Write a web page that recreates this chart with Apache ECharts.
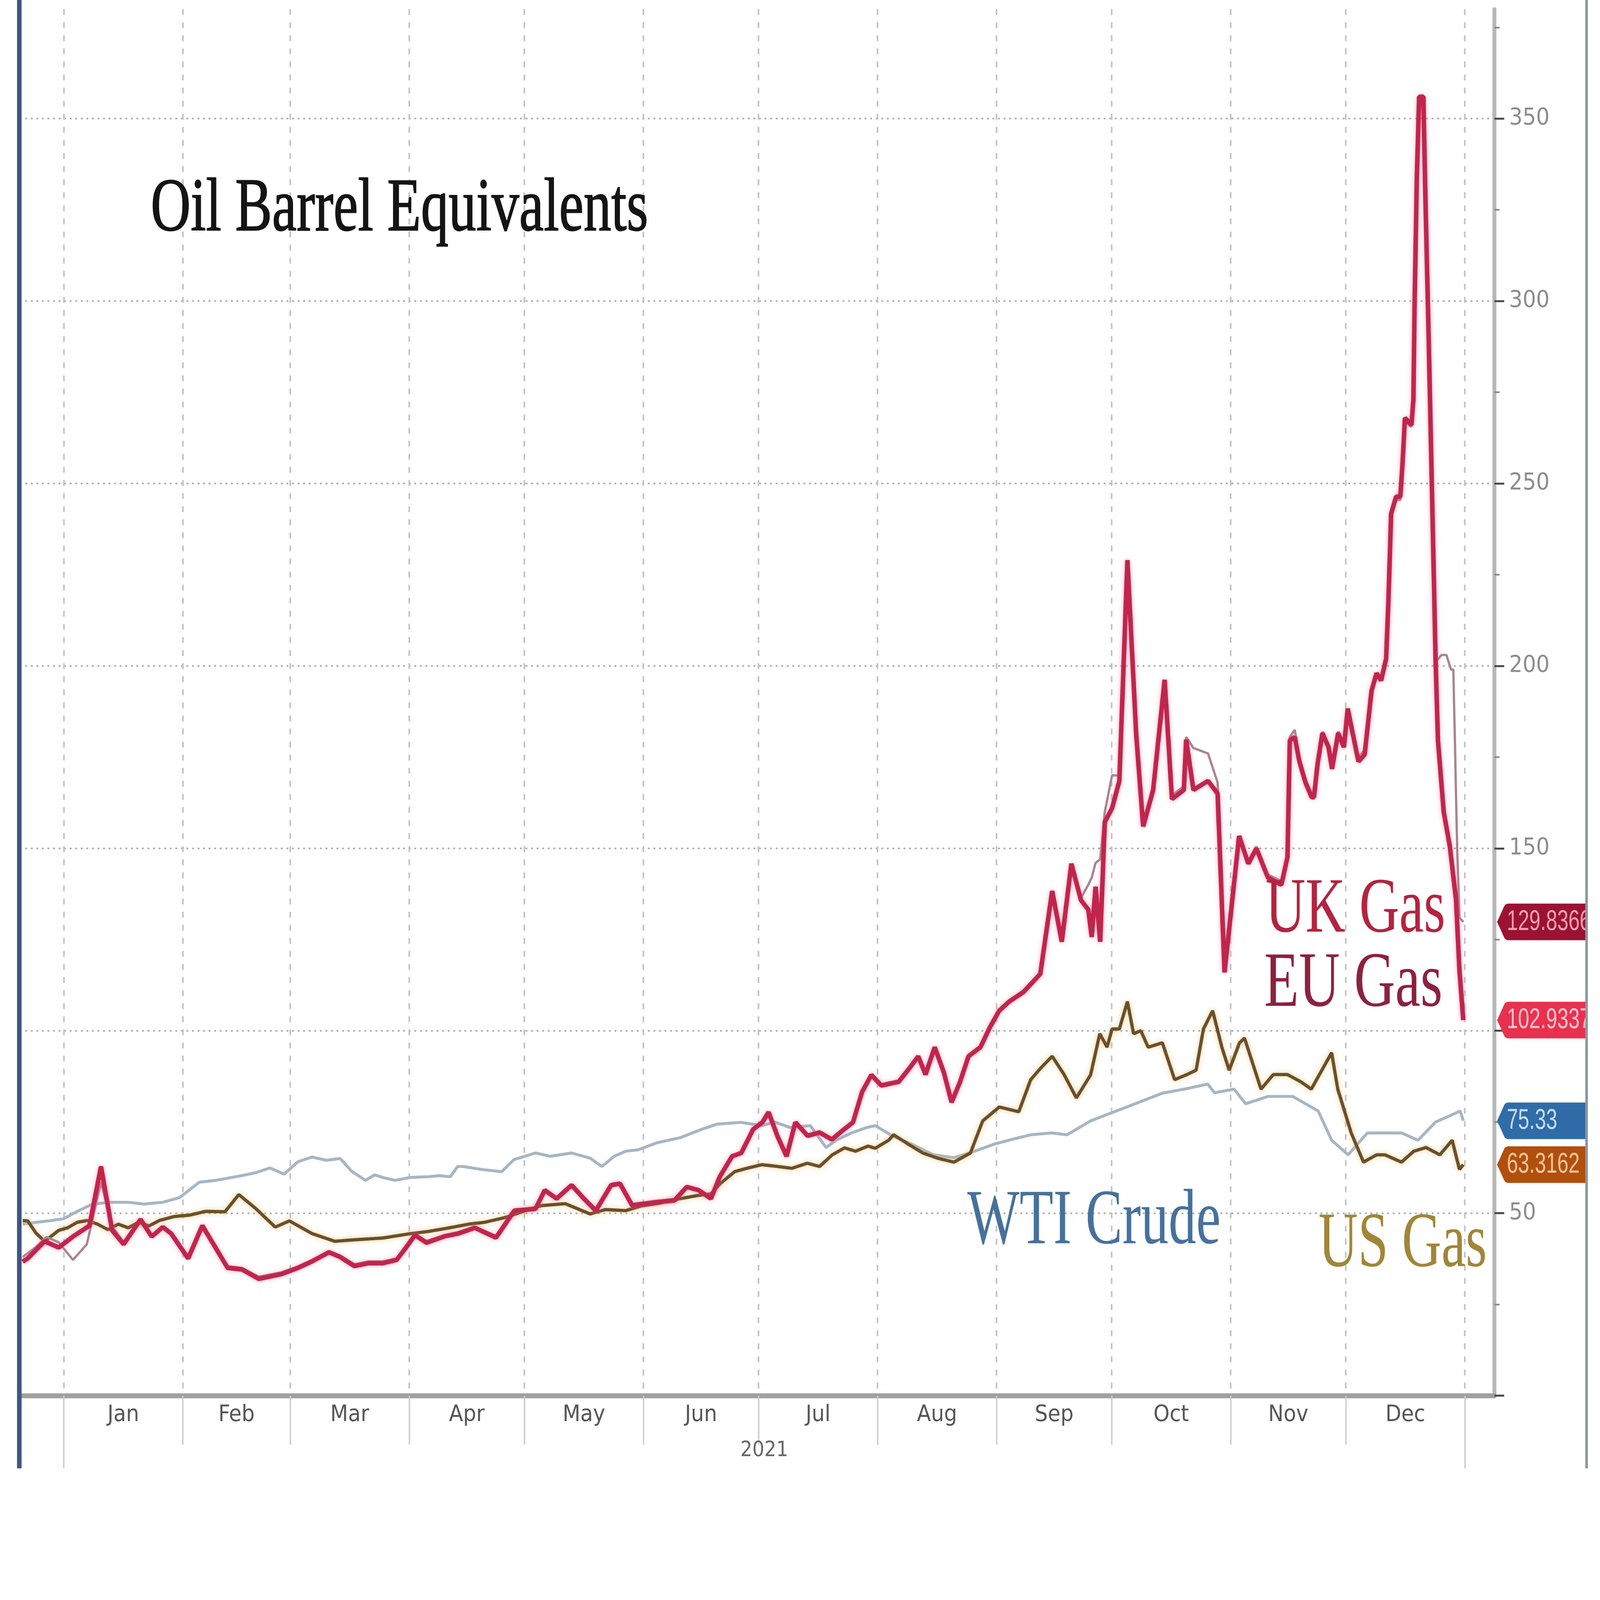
<!DOCTYPE html>
<html><head><meta charset="utf-8">
<script src="https://cdn.jsdelivr.net/npm/echarts@6/dist/echarts.min.js"></script>
<style>html,body{margin:0;padding:0;background:#fff;overflow:hidden}#chart{width:4893px;height:4490px;transform-origin:0 0}</style>
</head><body><div id="chart"></div>
<script>
// x values are days since 1 Jan 2021
const monthNames = ['Jan','Feb','Mar','Apr','May','Jun','Jul','Aug','Sep','Oct','Nov','Dec'];
const monthStarts = [0,31,59,90,120,151,181,212,243,273,304,334,365];
const yearTicks = [0,365];
const yearLabelPos = [182.5];
const yearLabel = '2021';
const yTickValues = [0,50,100,150,200,250,300,350];
const yLabelValues = [50,100,150,200,250,300,350];
const yMinorValues = [25,75,125,175,225,275,325,375];
const X_MIN = -11.5, X_MAX = 372.7;
const Y_MIN = 0, Y_MAX = 380;

const wtiCrude = [[-10.7,47.0],[-7.2,47.5],[-3.2,48.0],[0.0,48.5],[3.5,50.5],[7.5,52.5],[11.9,53.0],[16.8,53.0],[20.8,52.5],[25.8,53.0],[30.2,54.3],[35.3,58.5],[39.6,59.0],[46.4,60.3],[50.0,61.1],[53.7,62.4],[57.4,60.7],[61.0,64.1],[64.7,65.4],[68.4,64.5],[72.0,65.0],[75.0,61.5],[78.6,59.0],[81.0,60.5],[83.1,59.8],[86.3,59.0],[90.3,59.8],[95.1,60.0],[97.8,60.3],[100.7,60.0],[102.6,62.8],[104.0,62.8],[109.5,61.9],[114.1,61.4],[117.3,64.7],[122.9,66.5],[126.8,65.6],[132.3,66.5],[137.1,65.1],[140.2,62.8],[143.4,65.6],[146.4,67.0],[149.7,67.4],[154.5,69.3],[160.6,70.7],[166.2,73.0],[170.2,74.4],[176.4,74.9],[181.9,74.0],[185.2,75.0],[189.2,73.5],[194.5,74.0],[198.6,68.0],[201.2,70.0],[205.2,72.0],[209.2,73.5],[211.4,74.0],[216.2,71.0],[220.7,69.0],[226.6,66.0],[231.9,65.2],[237.3,67.0],[242.6,69.0],[248.0,70.5],[252.0,71.5],[257.3,72.0],[261.4,71.5],[267.5,75.3],[273.7,77.8],[280.1,80.4],[286.2,82.9],[292.4,84.1],[298.0,85.4],[299.8,83.0],[304.9,84.0],[307.9,80.0],[313.7,82.0],[320.2,82.0],[326.8,78.0],[330.3,70.0],[334.6,66.0],[339.6,72.0],[344.2,72.0],[348.5,72.0],[352.8,70.0],[357.4,75.0],[361.7,77.0],[363.8,78.0],[364.6,75.33]];

const usGas = [[-10.7,48.0],[-9.4,47.9],[-7.2,44.5],[-5.0,42.3],[-1.3,45.3],[1.0,46.0],[3.5,47.5],[6.1,48.0],[8.8,47.0],[11.5,45.5],[14.2,47.0],[16.8,46.0],[19.5,47.5],[22.2,46.5],[24.9,48.0],[28.8,49.1],[32.9,49.5],[36.9,50.5],[42.0,50.4],[45.6,55.1],[50.0,51.3],[55.1,46.2],[58.8,47.9],[64.7,44.4],[70.6,42.3],[75.6,42.7],[83.1,43.2],[90.3,44.4],[95.0,45.0],[100.5,46.0],[105.5,47.0],[109.6,47.5],[114.9,48.8],[119.7,50.5],[124.5,52.1],[130.7,52.6],[137.1,49.8],[141.1,51.0],[146.4,50.7],[150.5,52.0],[154.5,52.6],[160.6,54.0],[165.4,54.9],[168.6,55.3],[171.0,58.1],[174.8,61.4],[177.9,62.3],[181.9,63.3],[186.0,62.8],[189.7,62.3],[193.7,63.7],[196.9,62.8],[200.2,66.0],[203.4,67.9],[206.3,67.0],[209.5,68.4],[211.4,67.8],[214.9,70.0],[216.2,71.5],[219.9,69.0],[223.8,66.5],[227.9,65.0],[231.9,64.0],[236.2,66.5],[239.4,75.3],[243.7,79.1],[248.8,77.8],[251.9,86.6],[254.7,90.0],[257.5,93.0],[260.6,88.0],[263.8,81.6],[267.5,87.9],[269.9,99.2],[271.8,95.5],[273.1,100.5],[275.0,100.5],[277.1,108.0],[278.7,99.2],[280.6,100.0],[282.5,95.5],[286.2,96.7],[289.4,86.6],[292.4,87.9],[295.0,89.2],[296.9,100.5],[299.3,105.5],[301.7,95.5],[303.6,89.2],[306.3,96.7],[307.6,98.0],[311.9,84.0],[315.1,88.0],[318.8,88.0],[322.3,86.0],[325.0,84.0],[330.3,94.0],[331.9,84.0],[335.4,72.0],[338.6,64.0],[342.0,66.0],[344.2,66.0],[348.5,64.0],[351.7,67.0],[354.9,68.0],[358.5,66.0],[361.7,70.0],[363.6,62.0],[364.6,63.3162]];

const ukGas = [[-10.7,38.0],[-7.5,40.5],[-4.5,43.5],[-1.3,42.0],[2.4,37.2],[6.0,41.5],[9.7,58.5],[12.6,46.5],[15.6,42.0],[20.0,47.5],[22.9,44.0],[25.8,46.0],[28.0,44.8],[32.4,38.2],[36.1,45.8],[42.7,35.5],[46.4,35.0],[50.8,32.6],[56.7,33.8],[61.0,35.4],[64.7,37.2],[69.1,39.6],[72.0,38.4],[75.7,36.0],[79.4,36.8],[83.1,36.8],[86.7,37.6],[88.9,40.6],[91.5,44.2],[94.5,42.4],[99.3,44.0],[102.7,44.8],[107.1,46.3],[112.6,43.8],[117.4,50.9],[122.9,51.6],[125.3,56.0],[128.4,54.4],[132.3,57.4],[135.5,54.4],[138.6,51.2],[142.6,57.3],[144.9,57.8],[148.1,52.6],[154.4,53.4],[159.1,53.9],[162.3,57.0],[165.4,56.6],[168.6,54.5],[170.9,60.3],[174.1,65.2],[176.5,66.8],[179.6,72.6],[182.0,74.5],[183.6,77.0],[185.9,71.6],[188.3,66.2],[190.6,74.4],[193.8,71.6],[196.9,72.5],[200.1,70.6],[203.3,73.4],[205.6,75.2],[208.0,83.0],[210.4,87.4],[213.0,85.4],[217.5,86.4],[220.5,90.4],[222.6,92.6],[224.5,88.6],[226.9,95.0],[229.3,89.0],[231.3,81.0],[233.5,86.5],[235.7,92.6],[238.8,95.8],[241.3,101.4],[243.7,105.0],[246.3,108.4],[250.0,111.0],[254.4,116.0],[257.5,137.5],[260.0,125.0],[262.5,145.0],[265.0,136.5],[266.9,140.0],[267.8,142.0],[268.8,146.0],[270.0,147.0],[271.2,160.0],[273.1,170.0],[275.0,170.0],[277.1,226.0],[279.4,182.0],[281.2,157.0],[283.8,166.5],[286.8,194.0],[288.7,164.5],[291.8,167.0],[292.4,180.5],[294.3,177.5],[298.1,176.0],[300.6,168.0],[302.4,118.0],[306.2,152.5],[308.6,146.5],[310.7,150.5],[313.7,142.8],[317.2,141.0],[318.8,148.5],[319.4,180.5],[320.7,182.5],[321.9,175.0],[323.5,169.0],[325.1,165.0],[325.7,165.5],[326.6,173.5],[327.9,182.0],[329.5,178.5],[330.4,173.0],[332.0,182.0],[333.5,178.5],[334.5,188.0],[335.4,184.5],[337.3,175.0],[338.9,177.0],[340.7,193.5],[342.0,197.5],[343.2,196.5],[344.5,201.5],[345.1,217.0],[345.8,240.5],[347.1,245.5],[348.2,245.5],[348.8,255.0],[349.4,267.0],[351.1,265.5],[351.6,272.0],[351.9,296.0],[352.5,332.0],[353.1,354.0],[354.2,354.0],[354.8,324.0],[355.6,288.0],[356.4,249.0],[357.4,201.0],[358.9,203.0],[360.2,203.0],[361.4,199.0],[362.0,199.0],[362.4,180.0],[363.0,150.0],[363.6,131.0],[364.6,129.8366]];

const euGas = [[-10.7,36.7],[-9.4,37.6],[-5.0,42.3],[-1.3,40.6],[2.4,43.6],[6.7,46.6],[9.7,62.8],[12.6,45.3],[15.6,41.5],[20.0,48.3],[22.9,43.6],[25.8,46.2],[28.0,44.4],[32.4,37.6],[36.1,46.6],[42.7,35.0],[46.4,34.6],[50.8,32.0],[56.7,33.3],[61.0,35.0],[64.7,36.8],[69.1,39.3],[72.0,38.0],[75.7,35.5],[79.4,36.3],[83.1,36.3],[86.7,37.2],[88.9,40.2],[91.5,44.0],[94.5,41.9],[99.3,43.7],[102.7,44.4],[107.1,46.0],[112.6,43.3],[117.4,50.7],[122.9,51.2],[125.3,56.3],[128.4,54.0],[132.3,57.7],[135.5,54.0],[138.6,50.7],[142.6,57.7],[144.9,58.1],[148.1,52.1],[154.4,53.0],[159.1,53.5],[162.3,57.2],[165.4,56.3],[168.6,54.0],[170.9,60.0],[174.1,65.6],[176.5,66.5],[179.6,73.0],[182.0,74.9],[183.6,77.7],[185.9,71.2],[188.3,65.6],[190.6,74.9],[193.8,71.2],[196.9,72.1],[200.1,70.2],[203.3,73.0],[205.6,74.9],[208.0,83.3],[210.4,87.9],[213.0,85.0],[217.5,86.0],[220.5,90.0],[222.6,93.0],[224.5,88.0],[226.9,95.5],[229.3,88.5],[231.3,80.4],[233.5,86.0],[235.7,93.0],[238.8,95.5],[241.3,101.0],[243.7,105.5],[246.3,108.0],[250.0,110.6],[254.4,115.6],[257.5,138.3],[260.0,124.4],[262.5,145.8],[265.0,135.8],[266.9,133.2],[267.8,125.7],[268.8,139.5],[270.0,124.4],[271.2,157.2],[273.1,161.0],[275.0,168.5],[277.1,229.0],[279.4,181.0],[281.2,156.0],[283.8,166.0],[286.8,196.2],[288.7,163.5],[291.8,166.0],[292.4,179.8],[294.3,166.0],[298.1,168.5],[300.6,165.0],[302.4,116.0],[306.2,153.4],[308.6,145.8],[310.7,150.0],[313.7,142.0],[317.2,140.0],[318.8,147.6],[319.4,179.6],[320.7,180.5],[321.9,173.8],[323.5,168.0],[325.1,164.0],[325.7,164.0],[326.6,172.8],[327.9,181.6],[329.5,177.7],[330.4,171.8],[332.0,181.6],[333.5,177.7],[334.5,188.3],[335.4,183.5],[337.3,173.8],[338.9,175.7],[340.7,193.2],[342.0,198.0],[343.2,196.0],[344.5,202.0],[345.1,218.0],[345.8,241.7],[347.1,246.4],[348.2,246.4],[348.8,256.0],[349.4,268.0],[351.1,266.0],[351.6,273.0],[351.9,298.0],[352.5,334.0],[353.1,356.0],[354.2,356.0],[354.8,325.0],[355.6,289.0],[356.4,250.0],[357.4,201.0],[358.0,179.6],[359.5,160.0],[361.1,150.5],[362.7,136.0],[363.6,116.5],[364.6,102.9337]];

const lastLabels = { wti: '75.33', us: '63.3162', uk: '129.8366', eu: '102.9337' };
const badgeColors = { wti: ['#2f6ca8', '#c6dcf2'], us: ['#b0500e', '#f8c498'], uk: ['#9b1233', '#eea2b2'], eu: ['#e8314f', '#ffc4ce'] };

const monthMids = monthStarts.slice(0, -1).map((s, i) => (s + monthStarts[i + 1]) / 2);
const NARROW = '"Liberation Sans Narrow","DejaVu Sans Condensed","Liberation Sans",sans-serif';
const SERIF = '"Liberation Serif","DejaVu Serif",serif';

// fit the 4893x4490 drawing to whatever CSS viewport the browser reports
const W = 4893, H = 4490;
const el = document.getElementById('chart');
const k = Math.min(window.innerWidth / W, window.innerHeight / H);
if (k > 0 && Math.abs(k - 1) > 0.001) el.style.transform = 'scale(' + k + ')';

function badge(key) {
  return {
    silent: true,
    symbol: 'path://M0,50 Q8,36 22,8 Q26,0 36,0 L300,0 L300,100 L36,100 Q26,100 22,92 Q8,64 0,50 Z',
    symbolSize: [292, 112],
    symbolOffset: [154, 0],
    symbolKeepAspect: false,
    itemStyle: { color: badgeColors[key][0] },
    label: { show: false },
    data: [{ coord: [X_MAX, parseFloat(lastLabels[key])], value: lastLabels[key] }]
  };
}

const chart = echarts.init(el, null, { renderer: 'canvas', width: W, height: H });
chart.setOption({
  animation: false,
  backgroundColor: '#ffffff',
  grid: { left: 60, right: 323, top: 28, bottom: 222, containLabel: false, outerBoundsMode: 'none' },
  xAxis: [{
    type: 'value', position: 'bottom', min: X_MIN, max: X_MAX,
    axisLine: { show: true, onZero: false, lineStyle: { color: '#a0a0a0', width: 15 } },
    axisTick: { show: true, customValues: monthStarts, length: 150, lineStyle: { color: '#cacaca', width: 4 } },
    axisLabel: { customValues: monthMids, margin: 25, color: '#555', fontSize: 70, fontFamily: NARROW,
      formatter: v => monthNames[monthMids.indexOf(v)] || '' },
    splitLine: { show: true, lineStyle: { type: [18, 22], color: '#c4c4c4', width: 5 } }
  }, {
    type: 'value', position: 'bottom', min: X_MIN, max: X_MAX,
    axisLine: { show: false },
    axisTick: { show: true, customValues: yearTicks, length: 240, lineStyle: { color: '#cacaca', width: 4 } },
    axisLabel: { customValues: yearLabelPos, margin: 136, color: '#666', fontSize: 64, fontFamily: NARROW,
      formatter: () => yearLabel },
    splitLine: { show: false }
  }],
  yAxis: [{
    type: 'value', position: 'right', min: Y_MIN, max: Y_MAX,
    axisLine: { show: true, onZero: false, lineStyle: { color: '#b8b8b8', width: 12 } },
    axisTick: { show: true, customValues: yTickValues, length: 30, lineStyle: { color: '#4a4a4a', width: 6 } },
    axisLabel: { customValues: yLabelValues, margin: 45, color: '#8c8c8c', fontSize: 72, fontFamily: NARROW },
    splitLine: { show: true, lineStyle: { type: [6, 11], color: '#b0b0b0', width: 5 } }
  }, {
    type: 'value', position: 'right', min: Y_MIN, max: Y_MAX,
    axisLine: { show: false, onZero: false },
    axisTick: { show: true, customValues: yMinorValues, length: 16, lineStyle: { color: '#8a8a8a', width: 5 } },
    axisLabel: { show: false },
    splitLine: { show: false }
  }],
  series: [
    { name: 'WTI Crude', type: 'line', data: wtiCrude, symbol: 'none', z: 2,
      lineStyle: { color: '#a6b6c2', width: 9 }, markPoint: badge('wti') },
    { name: 'US Gas', type: 'line', data: usGas, symbol: 'none', z: 3,
      lineStyle: { color: '#6b4f2a', width: 10, shadowColor: 'rgba(235,200,120,0.8)', shadowBlur: 16 },
      markPoint: badge('us') },
    { name: 'UK Gas', type: 'line', data: ukGas, symbol: 'none', z: 4,
      lineStyle: { color: '#a8848e', width: 7 }, markPoint: badge('uk') },
    { name: 'EU Gas', type: 'line', data: euGas, symbol: 'none', z: 5,
      lineStyle: { color: '#c0254d', width: 14, shadowColor: 'rgba(240,120,150,0.6)', shadowBlur: 14 },
      markPoint: badge('eu') }
  ]
});

// badge value texts, placed on the y scale of the chart
const axisX = chart.convertToPixel({ xAxisIndex: 0 }, X_MAX);
const badgeTexts = Object.keys(lastLabels).map(key => ({
  type: 'text', z: 60, x: axisX + 38, y: chart.convertToPixel({ yAxisIndex: 0 }, parseFloat(lastLabels[key])),
  scaleX: 0.7,
  style: { text: lastLabels[key], font: '88px "Liberation Sans","DejaVu Sans",sans-serif', fill: badgeColors[key][1],
    align: 'left', verticalAlign: 'middle' }
}));

chart.setOption({
  graphic: [
    { type: 'rect', z: 100, shape: { x: 52, y: 0, width: 14, height: 4490 }, style: { fill: '#3d5683' } },
    { type: 'rect', z: 100, shape: { x: 4856, y: 0, width: 37, height: 4490 }, style: { fill: '#ffffff' } },
    { type: 'rect', z: 101, shape: { x: 4848, y: 0, width: 8, height: 4490 }, style: { fill: '#8e97a2' } },
    { type: 'text', z: 50, x: 461, y: 644, scaleX: 0.735,
      style: { text: 'Oil Barrel Equivalents', font: '230px ' + SERIF, fill: '#141414', stroke: '#141414', lineWidth: 3, align: 'left', verticalAlign: 'middle' } },
    { type: 'text', z: 50, x: 3870, y: 2786, scaleX: 0.705,
      style: { text: 'UK Gas', font: '240px ' + SERIF, fill: '#b3243f', align: 'left', verticalAlign: 'middle' } },
    { type: 'text', z: 50, x: 3866, y: 3013, scaleX: 0.724,
      style: { text: 'EU Gas', font: '240px ' + SERIF, fill: '#8c2140', align: 'left', verticalAlign: 'middle' } },
    { type: 'text', z: 50, x: 2958, y: 3739, scaleX: 0.705,
      style: { text: 'WTI Crude', font: '240px ' + SERIF, fill: '#46719b', align: 'left', verticalAlign: 'middle' } },
    { type: 'text', z: 50, x: 4032, y: 3809, scaleX: 0.696,
      style: { text: 'US Gas', font: '240px ' + SERIF, fill: '#a08637', align: 'left', verticalAlign: 'middle' } }
  ].concat(badgeTexts)
});
</script>
</body></html>
